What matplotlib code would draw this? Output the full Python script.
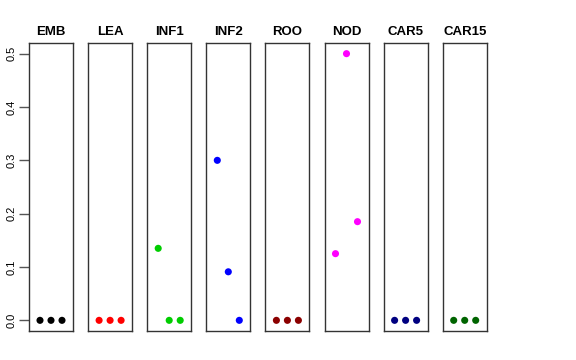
import matplotlib
matplotlib.use("Agg")
import matplotlib.pyplot as plt

plt.rcParams["font.family"] = ["Liberation Sans", "DejaVu Sans"]

# panel names, colours and the three values per panel
groups = ["EMB", "LEA", "INF1", "INF2", "ROO", "NOD", "CAR5", "CAR15"]
colors = ["black", "red", "#00CD00", "blue", "#8B0000", "magenta", "#000080", "#006400"]
values = [
    [0.0, 0.0, 0.0],
    [0.0, 0.0, 0.0],
    [0.135, 0.0, 0.0],
    [0.30, 0.091, 0.0],
    [0.0, 0.0, 0.0],
    [0.125, 0.50, 0.185],
    [0.0, 0.0, 0.0],
    [0.0, 0.0, 0.0],
]
xpos = [1, 2, 3]
yticks = [0.0, 0.1, 0.2, 0.3, 0.4, 0.5]

W, H = 576, 360
fig = plt.figure(figsize=(W / 100, H / 100), dpi=100)

left0, step, width = 29, 59.1, 44
top, bottom = 43, 331

for i, (name, col, vals) in enumerate(zip(groups, colors, values)):
    x0 = left0 + i * step
    ax = fig.add_axes([x0 / W, (H - bottom) / H, width / W, (bottom - top) / H])
    ax.scatter(xpos, vals, s=26, color=col, edgecolors="none", zorder=3)
    ax.set_xlim(0, 4)
    ax.set_ylim(-0.02, 0.52)
    ax.set_xticks([])
    for sp in ax.spines.values():
        sp.set_linewidth(1.0)
        sp.set_color("#333333")
    ax.set_title(name, fontsize=9.5, fontweight="bold", pad=6)
    if i == 0:
        ax.set_yticks(yticks)
        ax.set_yticklabels([f"{v:.1f}" for v in yticks], rotation=90, va="center")
        ax.tick_params(axis="y", length=7, width=1, labelsize=8, pad=2, color="#555555")
    else:
        ax.set_yticks([])

fig.savefig("out.png", dpi=100)
